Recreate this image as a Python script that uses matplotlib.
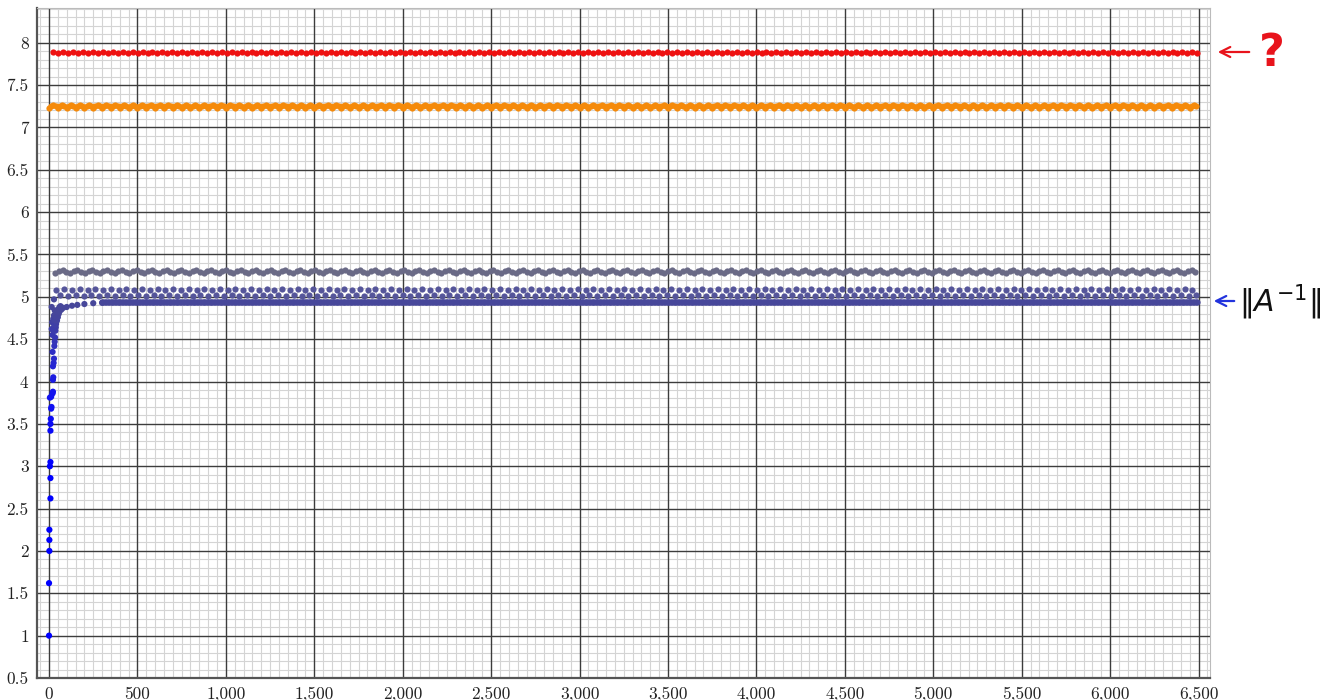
import numpy as np
import matplotlib
matplotlib.use("Agg")
import matplotlib.pyplot as plt
from matplotlib.ticker import MultipleLocator, FuncFormatter
from matplotlib.colors import LinearSegmentedColormap

# ---------------- data ----------------
# red series: nearly constant level with a small repeating wobble
red_x = np.arange(25, 6500, 28)
red_pattern = [7.888, 7.884, 7.891, 7.882]

# orange series: scalloped band
orange_x = np.arange(0, 6500, 12.5)
orange_pattern = [7.226, 7.250, 7.263, 7.252]

# upper grey series
grey_x = np.arange(35, 6500, 21)
grey_pattern = [5.286, 5.301, 5.312, 5.296]

# middle series (two interleaved rows)
mid_x = np.arange(42, 6500, 22)
mid_pattern = [5.080, 5.018, 5.092, 5.012]

# main curve ||A^-1||: rising part (explicit), then flat level
rise_x = [0, 0, 2, 2, 2, 8, 8, 5, 8, 8, 8, 10, 12, 14, 5, 12, 20, 22, 22, 24,
          22, 26, 28, 20, 30, 32, 34, 36, 38, 40, 45, 50, 55, 60, 70, 80, 100,
          130, 160, 200, 250, 300,
          15, 18, 24, 28, 30, 34, 38, 42, 46, 50, 55, 60, 65, 15, 28, 20, 26, 32]
rise_y = [1.00, 1.62, 2.00, 2.13, 2.25, 2.62, 2.86, 3.00, 3.05, 3.42, 3.50, 3.56, 3.68, 3.70,
          3.81, 3.82, 3.86, 3.88, 4.02, 4.05, 4.18, 4.22, 4.27, 4.35, 4.42, 4.47, 4.52,
          4.60, 4.64, 4.68, 4.72, 4.76, 4.80, 4.83, 4.85, 4.87, 4.88, 4.895, 4.905,
          4.915, 4.925, 4.93,
          4.62, 4.70, 4.74, 4.78, 4.66, 4.72, 4.80, 4.76, 4.84, 4.82, 4.86, 4.88, 4.89,
          4.88, 4.97, 4.55, 4.60, 4.84]
flat_x = np.arange(300, 6500, 8)
flat_level = 4.94

# tick settings
x_major = 500
y_major = 0.5

# ---------------- figure ----------------
fig = plt.figure(figsize=(13.29, 7.0), dpi=100)
ax = fig.add_axes([37 / 1329, 22 / 700, (1210 - 37) / 1329, (678 - 8) / 700])

ax.set_xlim(-68, 6565)
ax.set_ylim(0.5, 8.41)

ax.xaxis.set_major_locator(MultipleLocator(x_major))
ax.xaxis.set_minor_locator(MultipleLocator(50))
ax.yaxis.set_major_locator(MultipleLocator(y_major))
ax.yaxis.set_minor_locator(MultipleLocator(0.1))
ax.grid(which="minor", color="#d4d4d4", linewidth=0.8)
ax.grid(which="major", visible=False)
ax.set_axisbelow(True)

# major grid drawn on top of the minor one
for xv in ax.get_xticks():
    if -68 <= xv <= 6565:
        ax.axvline(xv, color="#3c3c3c", linewidth=1.0, zorder=1)
for yv in ax.get_yticks():
    if 0.5 < yv <= 8.41:
        ax.axhline(yv, color="#3c3c3c", linewidth=1.0, zorder=1)

ax.xaxis.set_major_formatter(FuncFormatter(lambda v, p: f"{v:,.0f}"))
ax.yaxis.set_major_formatter(FuncFormatter(lambda v, p: f"{v:g}"))
ax.tick_params(which="both", length=0, labelsize=12.5, colors="#222222", pad=6)
for lab in ax.get_xticklabels() + ax.get_yticklabels():
    lab.set_fontfamily("cmr10")

for side in ("left", "bottom"):
    ax.spines[side].set_color("#555555")
    ax.spines[side].set_linewidth(1.6)
for side in ("top", "right"):
    ax.spines[side].set_color("#bbbbbb")
    ax.spines[side].set_linewidth(0.8)

ms = 20

def cyc(pattern, n):
    return [pattern[i % len(pattern)] for i in range(n)]

ax.scatter(red_x, cyc(red_pattern, len(red_x)), s=ms, color="#ee1111", lw=0, zorder=3)
ax.scatter(orange_x, cyc(orange_pattern, len(orange_x)), s=ms, color="#f58a0a", lw=0, zorder=3)
ax.scatter(grey_x, cyc(grey_pattern, len(grey_x)), s=ms, color="#6a6a86", lw=0, zorder=3)
ax.scatter(mid_x, cyc(mid_pattern, len(mid_x)), s=ms, color="#55559a", lw=0, zorder=3)
ax.scatter(flat_x, [flat_level] * len(flat_x), s=ms, color="#47479a", lw=0, zorder=3)

cmap = LinearSegmentedColormap.from_list("b", ["#0000ff", "#1414ee", "#47479a"])
ry = np.array(rise_y)
cvals = np.clip((ry - 3.0) / 1.8, 0, 1)
ax.scatter(rise_x, rise_y, s=ms, c=cmap(cvals), lw=0, zorder=4)

# annotations
ax.annotate("", xy=(1215 / 1329, 1 - 52 / 700), xytext=(1252 / 1329, 1 - 52 / 700),
            xycoords="figure fraction", textcoords="figure fraction",
            arrowprops=dict(arrowstyle="->", color="#e8141c", lw=1.6, mutation_scale=18))
fig.text(1272 / 1329, 1 - 53 / 700, "?", color="#e8141c", fontsize=32, fontweight="bold",
         ha="center", va="center", family="DejaVu Sans")

ax.annotate("", xy=(1211 / 1329, 1 - 301 / 700), xytext=(1237 / 1329, 1 - 301 / 700),
            xycoords="figure fraction", textcoords="figure fraction",
            arrowprops=dict(arrowstyle="->", color="#2233dd", lw=1.6, mutation_scale=18))
plt.rcParams["mathtext.fontset"] = "dejavusans"
fig.text(1239 / 1329, 1 - 302 / 700, r"$\Vert A^{-1}\Vert$", color="#111111", fontsize=21.5,
         ha="left", va="center")

fig.savefig("out.png", dpi=100)
